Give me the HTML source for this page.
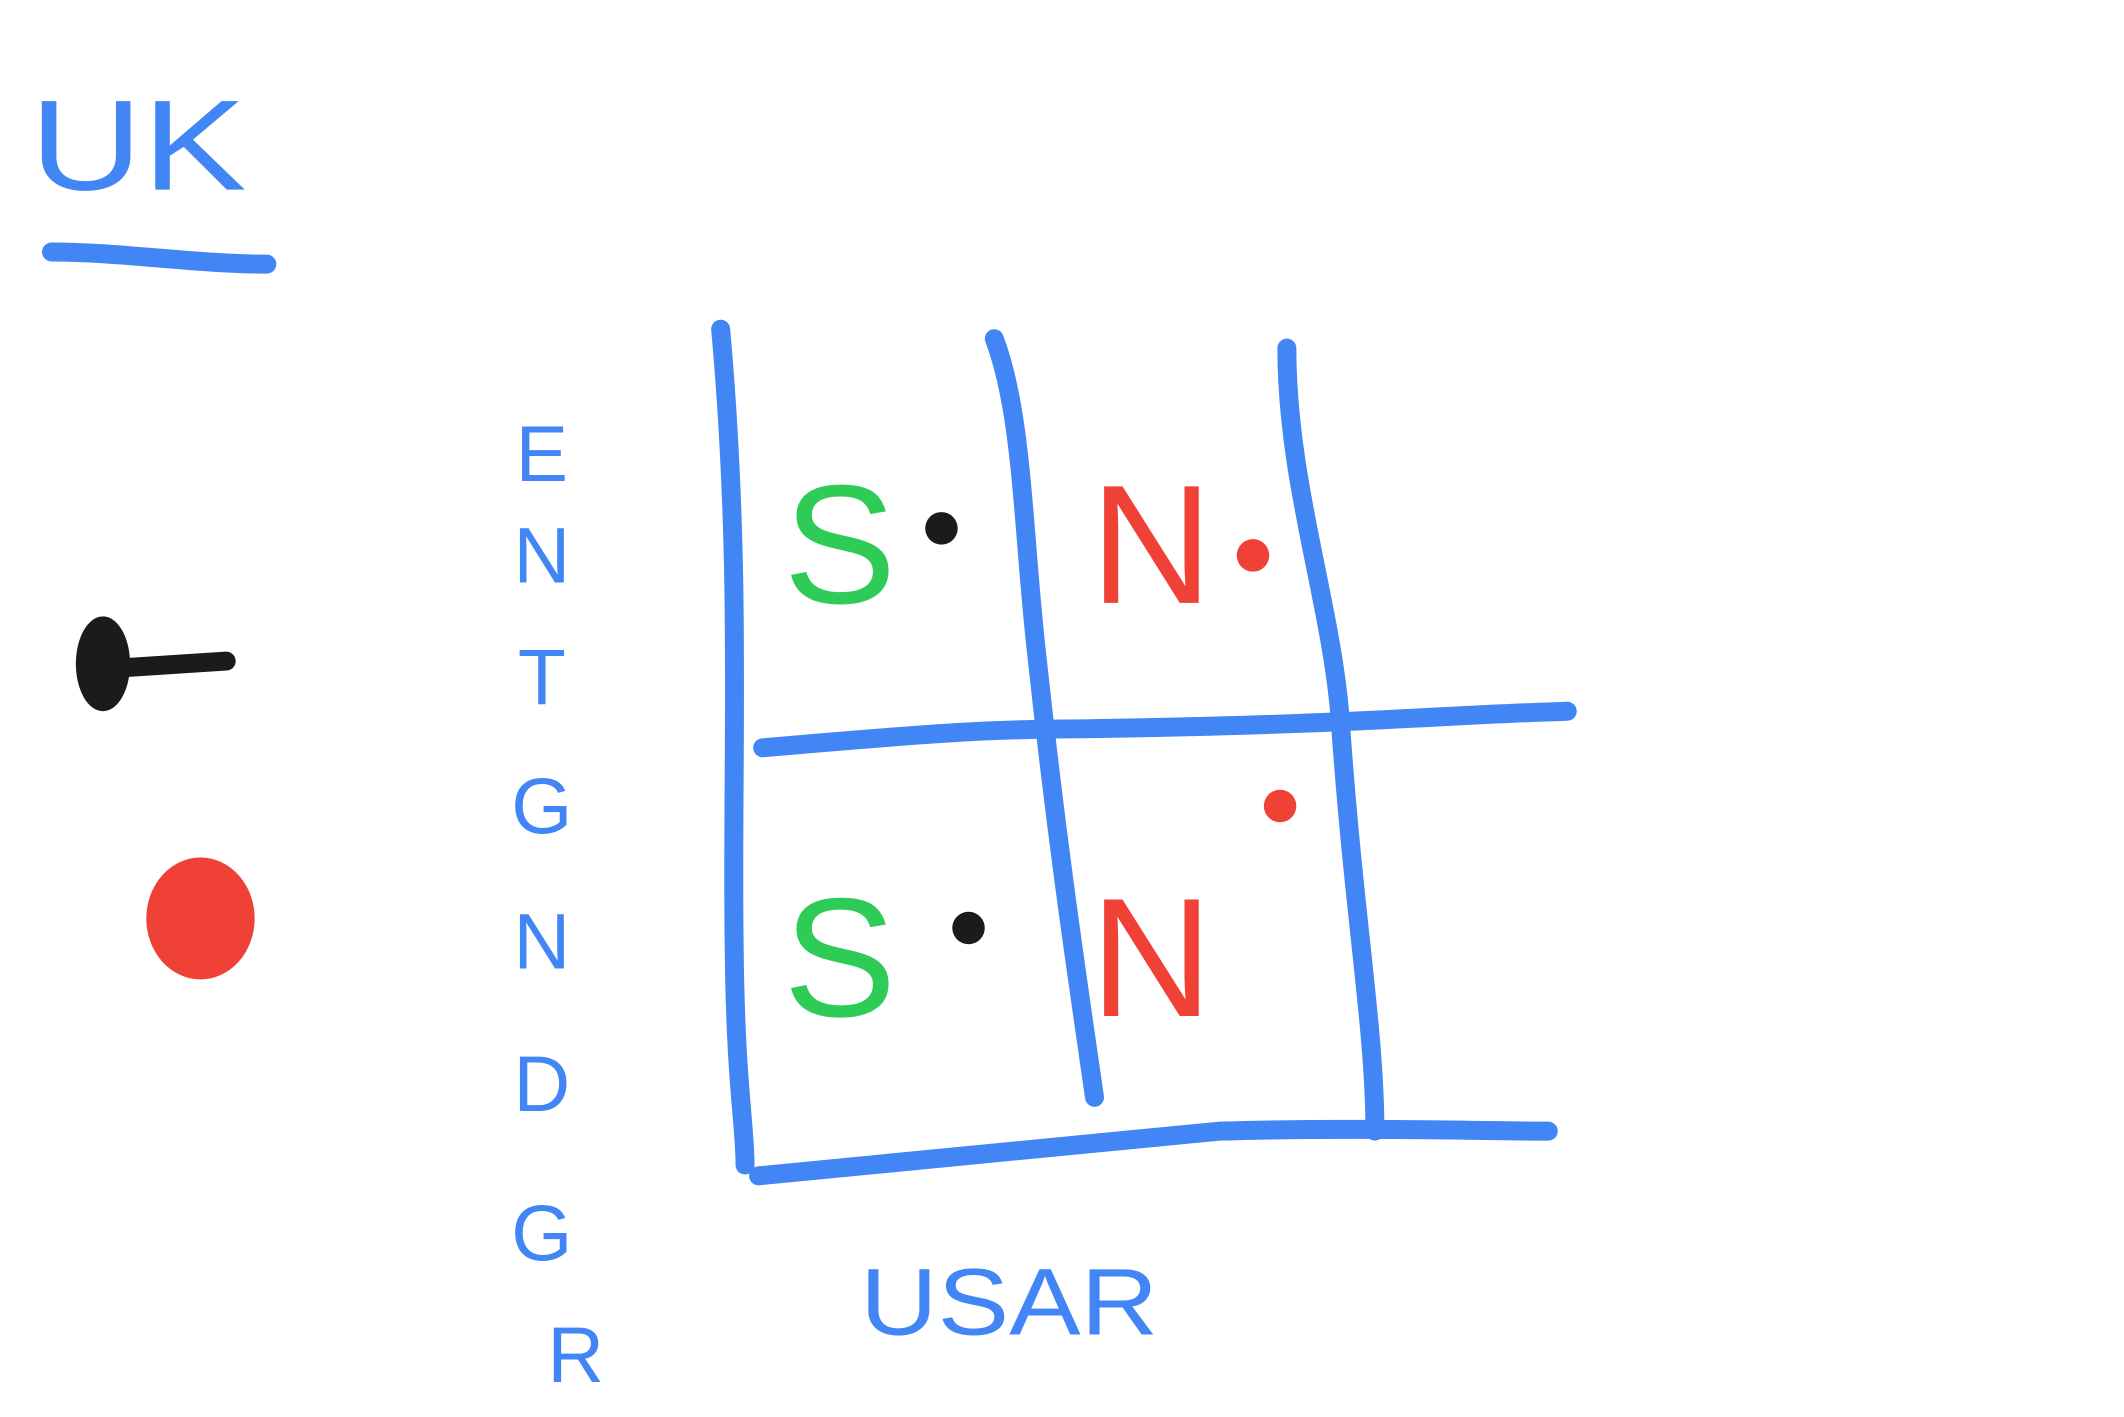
<!DOCTYPE html>
<html><head><meta charset="utf-8"><style>
html,body{margin:0;padding:0;background:#fff;}
svg{display:block;}
text{font-family:"Liberation Sans",sans-serif;}
</style></head><body>
<svg id="chart" width="2124" height="1417" viewBox="0 0 1568 1046" preserveAspectRatio="none" xmlns="http://www.w3.org/2000/svg">
  <g>
    <text x="22" y="140" font-size="95" fill="#4285f4" textLength="160" lengthAdjust="spacingAndGlyphs">UK</text>
    <path d="M38,186 C90,186 145,195 197,195" stroke="#4285f4" stroke-width="14" stroke-linecap="round" fill="none"/>
  </g>
  <g>
    <ellipse cx="76" cy="490" rx="20" ry="35" fill="#1b1b1b"/>
    <path d="M90,493 L167,488" stroke="#1b1b1b" stroke-width="14" stroke-linecap="round"/>
    <ellipse cx="148" cy="678" rx="40" ry="45" fill="#ef4136"/>
  </g>
  <g stroke="#4285f4" stroke-width="14" stroke-linecap="round" fill="none">
    <path d="M532,243 C548,420 540,560 542,700 C543,800 550,830 550,860"/>
    <path d="M734,250 C755,305 755,390 765,480 C780,620 795,720 808,810"/>
    <path d="M950,257 C950,360 985,450 990,540 C1000,680 1015,760 1015,835"/>
    <path d="M563,552 C700,540 740,538 800,538 C1000,535 1060,528 1157,525"/>
    <path d="M560,868 C700,855 800,845 900,835 C1000,832 1100,835 1143,835"/>
  </g>
  <g id="y-label" fill="#4285f4" font-size="58" text-anchor="middle"></g>
  <text x="745" y="985" font-size="70" fill="#4285f4" text-anchor="middle" textLength="220" lengthAdjust="spacingAndGlyphs">USAR</text>
  <g id="cells"></g>
</svg>
<script>
const yLetters = ["E","N","T","G","N","D","G","R"];
const yLetterY = [355, 430, 520, 615, 715, 820, 930, 1020];
const cellLabels = ["S","N","S","N"];
const cellColors = ["#2ecc56","#ef4136","#2ecc56","#ef4136"];
const cellDotColors = ["#1b1b1b","#ef4136","#1b1b1b","#ef4136"];
const cellCol = [0,1,0,1];
const cellRow = [0,0,1,1];

const NS = 'http://www.w3.org/2000/svg';
const yl = document.getElementById('y-label');
yLetters.forEach((c,i)=>{
  const t = document.createElementNS(NS,'text');
  
  
  t.setAttribute('x', 400 + (i===7?25:0));
  t.setAttribute('y', yLetterY[i]);
  t.textContent = c;
  yl.appendChild(t);
});
const colX = x => 620 + x*230;
const rowY = r => 445 + r*305;
const cells = document.getElementById('cells');
cellLabels.forEach((l,i)=>{
  const x = colX(cellCol[i]), y = rowY(cellRow[i]);
  const t = document.createElementNS(NS,'text');
  
  
  t.setAttribute('x', x);
  t.setAttribute('y', y);
  t.setAttribute('font-size', '125');
  t.setAttribute('fill', cellColors[i]);
  t.setAttribute('text-anchor','middle');
  t.textContent = l;
  cells.appendChild(t);
  const d = document.createElementNS(NS,'circle');
  
  
  d.setAttribute('cx', x + 75 + cellRow[i]*20);
  d.setAttribute('cy', y - 55 + cellCol[i]*(20) - cellRow[i]*(10 + cellCol[i]*110));
  d.setAttribute('r', 12);
  d.setAttribute('fill', cellDotColors[i]);
  cells.appendChild(d);
});
</script>
</body></html>
